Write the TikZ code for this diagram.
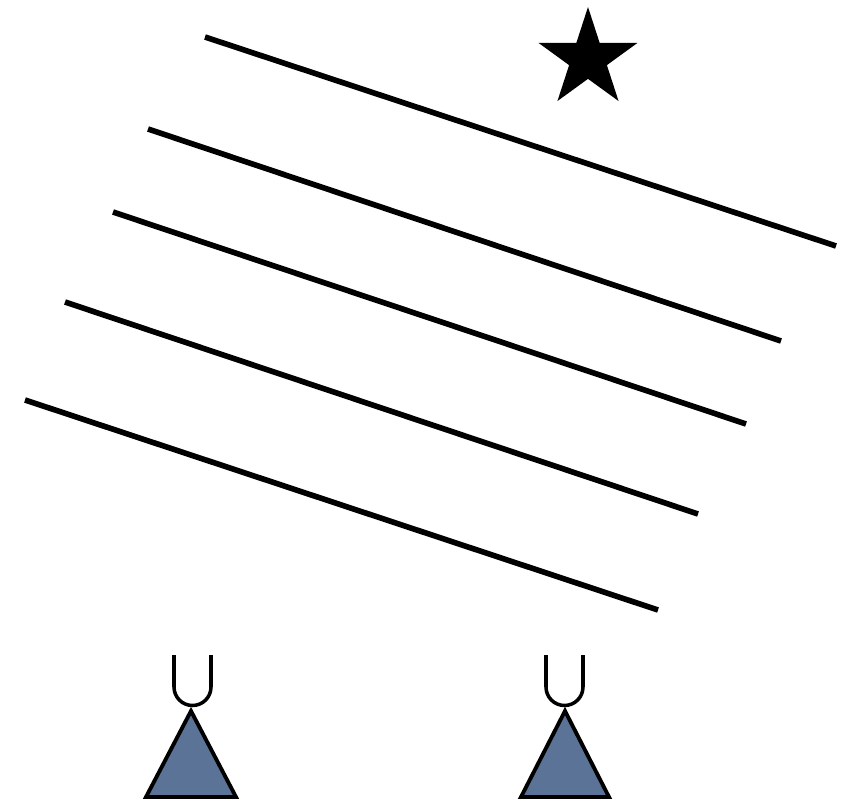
\documentclass[tikz,border=0pt]{standalone}
\usetikzlibrary{shapes.geometric}
\definecolor{azulado}{HTML}{5B7396}
\begin{document}
\begin{tikzpicture}[
  x=0.02cm, y=-0.02cm,
  onda/.style={line width=3.2pt, line cap=butt},
  antena/.style={draw, line width=2.2pt, fill=azulado, line join=miter},
  copa/.style={line width=2pt},
  estrella/.style={star, star points=5, star point ratio=2.618,
                   minimum size=2.08cm, inner sep=0pt, fill=black}
]
  \useasboundingbox (0,0) rectangle (856,804);
  \node[estrella] (fuente) at (588,59) {};
  \draw[onda] (205,37) -- (836,246);
  \draw[onda] (148,129) -- (781,341);
  \draw[onda] (113,212) -- (746,424);
  \draw[onda] (65,302) -- (698,514);
  \draw[onda] (25,400) -- (658,610);
  % receptores
  \draw[antena] (191,711) -- (236,797) -- (146,797) -- cycle;
  \draw[antena] (565,711) -- (609,797) -- (521,797) -- cycle;
  \draw[copa] (174,655) -- (174,687) arc[start angle=180, end angle=0, radius=18.5] -- (211,655);
  \draw[copa] (546,655) -- (546,687) arc[start angle=180, end angle=0, radius=18.5] -- (583,655);
\end{tikzpicture}
\end{document}
